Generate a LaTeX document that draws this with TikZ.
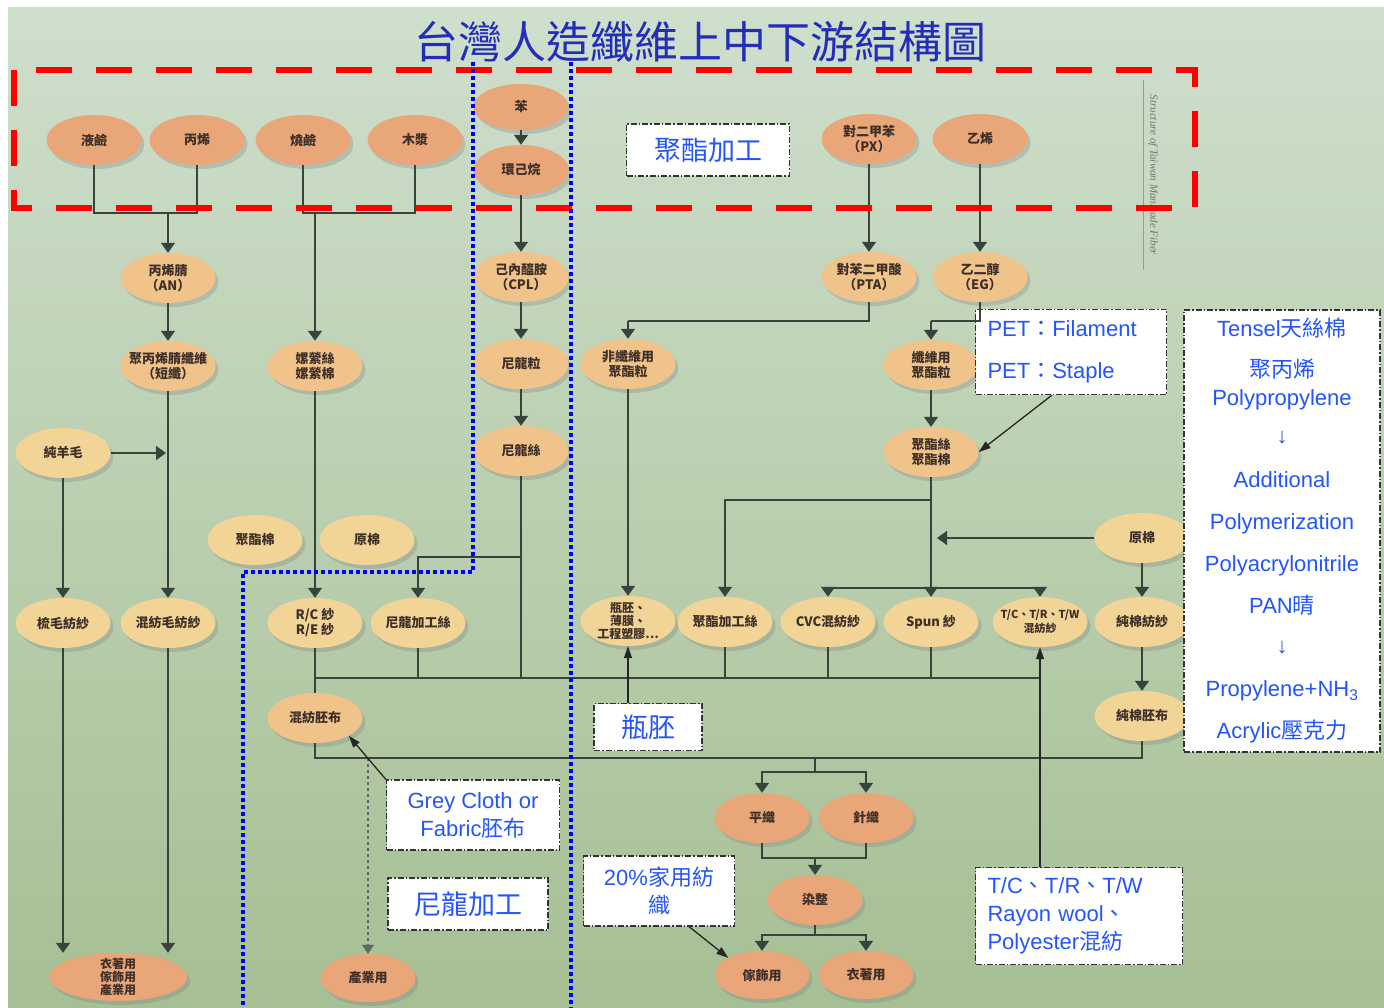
\documentclass[tikz,border=0pt]{standalone}
\usepackage{fontspec}
\setmainfont{Liberation Sans}
\newfontfamily\cjk{Noto Sans CJK TC}
\newfontfamily\serifit{Liberation Serif}
\usetikzlibrary{arrows.meta,shapes.geometric,shadows,calc}
\definecolor{bgtop}{RGB}{206,223,204}
\definecolor{bgbot}{RGB}{166,191,148}
\definecolor{salmon}{RGB}{233,166,121}
\definecolor{peach}{RGB}{240,195,138}
\definecolor{sand}{RGB}{242,212,150}
\definecolor{lc}{RGB}{55,68,60}
\definecolor{lbl}{RGB}{62,48,40}
\definecolor{boxblue}{RGB}{35,85,250}
\definecolor{titleblue}{RGB}{35,45,185}
\begin{document}
\begin{tikzpicture}[x=1pt,y=-1pt,
  nd/.style={ellipse, minimum width=95pt, minimum height=50pt, inner sep=-14pt,
    text=lbl, align=center, font=\cjk\bfseries\fontsize{13}{15}\selectfont,
    drop shadow={shadow xshift=3pt,shadow yshift=-4pt,opacity=0.3}},
  ln/.style={draw=lc, line width=1.6pt},
  ar/.style={ln, -{Triangle[width=14pt,length=10pt]}},
  dar/.style={draw=lc!80, line width=1.3pt, dashed, -{Triangle[width=12pt,length=9pt]}},
  ann/.style={draw=black!85, line width=1.3pt, -{Triangle[width=8pt,length=12pt]}},
  tbox/.style={draw=black!80, fill=white, line width=1.2pt,
    dash pattern=on 6pt off 2pt on 1.5pt off 2pt, text=boxblue, inner sep=4pt},
]
\useasboundingbox (0,0) rectangle (1384,1008);
\fill[white] (0,0) rectangle (1384,1008);
\shade[top color=bgtop, bottom color=bgbot] (8,8) rectangle (1384,1008);

% title and side text
\node[text=titleblue, font=\cjk\fontsize{44}{50}\selectfont] (title) at (700,42) {台灣人造纖維上中下游結構圖};
\draw[black!40, line width=0.8pt] (1143,80) -- (1143,270);
\node[rotate=-90, font=\serifit\itshape\fontsize{11}{12}\selectfont, text=black!55] (side) at (1153,175) {Structure of Taiwan Manmade Fiber};

% nodes
\node[nd,fill=salmon] (liq) at (94,140) {液鹼};
\node[nd,fill=salmon] (prop) at (197,140) {丙烯};
\node[nd,fill=salmon] (soda) at (303,140) {燒鹼};
\node[nd,fill=salmon] (pulp) at (415,140) {木漿};
\node[nd,fill=salmon,minimum height=46pt] (benz) at (521,107) {苯};
\node[nd,fill=salmon] (cyc) at (521,170) {環己烷};
\node[nd,fill=salmon] (px) at (869,139) {對二甲苯\\（PX）};
\node[nd,fill=salmon] (eth) at (980,139) {乙烯};

\node[nd,fill=peach] (an) at (168,278) {丙烯腈\\（AN）};
\node[nd,fill=peach] (cpl) at (521,277) {己內醯胺\\（CPL）};
\node[nd,fill=peach] (pta) at (869,277) {對苯二甲酸\\（PTA）};
\node[nd,fill=peach] (eg) at (980,277) {乙二醇\\（EG）};

\node[nd,fill=peach] (pan) at (168,366) {聚丙烯腈纖維\\（短纖）};
\node[nd,fill=peach] (rayon) at (315,366) {嫘縈絲\\嫘縈棉};
\node[nd,fill=peach] (nchip) at (521,364) {尼龍粒};
\node[nd,fill=peach] (nfchip) at (628,364) {非纖維用\\聚酯粒};
\node[nd,fill=peach] (fchip) at (931,365) {纖維用\\聚酯粒};

\node[nd,fill=sand] (wool) at (63,453) {純羊毛};
\node[nd,fill=peach] (nfil) at (521,451) {尼龍絲};
\node[nd,fill=peach] (pfib) at (931,452) {聚酯絲\\聚酯棉};

\node[nd,fill=sand] (pcot) at (255,540) {聚酯棉};
\node[nd,fill=sand] (rcot) at (367,540) {原棉};
\node[nd,fill=sand] (cotton) at (1142,538) {原棉};

\node[nd,fill=sand] (worst) at (63,623) {梳毛紡紗};
\node[nd,fill=sand] (bw) at (168,623) {混紡毛紡紗};
\node[nd,fill=sand] (rc) at (315,623) {R/C 紗\\R/E 紗};
\node[nd,fill=sand] (nyltex) at (418,623) {尼龍加工絲};
\node[nd,fill=sand,font=\cjk\bfseries\fontsize{12}{13}\selectfont] (bottle) at (628,621) {瓶胚、\\薄膜、\\工程塑膠…};
\node[nd,fill=sand] (ptex) at (725,622) {聚酯加工絲};
\node[nd,fill=sand] (cvc) at (828,622) {CVC混紡紗};
\node[nd,fill=sand] (spun) at (931,622) {Spun 紗};
\node[nd,fill=sand,font=\cjk\bfseries\fontsize{11}{14}\selectfont] (tc) at (1040,622) {T/C、T/R、T/W\\混紡紗};
\node[nd,fill=sand] (pcy) at (1142,622) {純棉紡紗};

\node[nd,fill=peach] (bfab) at (315,718) {混紡胚布};
\node[nd,fill=sand] (cfab) at (1142,716) {純棉胚布};

\node[nd,fill=salmon] (plain) at (762,818) {平織};
\node[nd,fill=salmon] (knit) at (866,818) {針織};
\node[nd,fill=salmon] (dye) at (815,900) {染整};

\node[nd,fill=salmon,minimum width=138pt,minimum height=48pt,font=\cjk\bfseries\fontsize{12}{13}\selectfont] (app) at (118,977) {衣著用\\傢飾用\\產業用};
\node[nd,fill=salmon,minimum height=48pt] (ind) at (368,978) {產業用};
\node[nd,fill=salmon,minimum height=48pt] (home) at (762,975) {傢飾用};
\node[nd,fill=salmon,minimum height=48pt] (cloth) at (866,975) {衣著用};

% text boxes
\node[tbox, minimum width=163pt, minimum height=52pt, font=\cjk\fontsize{27}{30}\selectfont] (pjbox) at (708,150) {聚酯加工};
\node[tbox, minimum width=191pt, minimum height=85pt, inner xsep=12pt, text width=167pt, align=left, font=\fontsize{22}{26}\selectfont] (petbox) at (1071,352) {PET{\cjk ：}Filament\\[16pt]PET{\cjk ：}Staple};
\node[tbox, minimum width=196pt, minimum height=442pt, align=center, font=\fontsize{22}{26}\selectfont] (tenbox) at (1282,531) {Tensel{\cjk 天絲棉}\\[15pt]{\cjk 聚丙烯}\\[2pt]Polypropylene\\[12pt]↓\\[18pt]Additional\\[16pt]Polymerization\\[16pt]Polyacrylonitrile\\[16pt]PAN{\cjk 晴}\\[14pt]↓\\[17pt]Propylene+NH\textsubscript{3}\\[16pt]Acrylic{\cjk 壓克力}};
\node[tbox, minimum width=108pt, minimum height=47pt, font=\cjk\fontsize{27}{30}\selectfont] (bottlebox) at (648,727) {瓶胚};
\node[tbox, minimum width=173pt, minimum height=70pt, align=center, font=\fontsize{22}{28}\selectfont] (greybox) at (473,815) {Grey Cloth or\\Fabric{\cjk 胚布}};
\node[tbox, minimum width=160pt, minimum height=52pt, font=\cjk\fontsize{27}{30}\selectfont] (nybox) at (468,904) {尼龍加工};
\node[tbox, minimum width=151pt, minimum height=70pt, align=center, font=\fontsize{22}{28}\selectfont] (famibox) at (659,891) {20\%{\cjk 家用紡}\\{\cjk 織}};
\node[tbox, minimum width=207pt, minimum height=97pt, inner xsep=12pt, text width=183pt, align=left, font=\fontsize{22}{28}\selectfont] (tcbox) at (1079,916) {T/C{\cjk 、}T/R{\cjk 、}T/W\\Rayon wool{\cjk 、}\\Polyester{\cjk 混紡}};

% connectors: upstream
\coordinate (j1) at (168,213);
\draw[ln] (liq.south) |- (j1) -| (prop.south);
\draw[ar] (j1) -- (an.north);
\coordinate (j2) at (315,213);
\draw[ln] (soda.south) |- (j2) -| (pulp.south);
\draw[ar] (j2) -- (rayon.north);
\draw[ar] (benz) -- (cyc);
\draw[ar] (cyc) -- (cpl);
\draw[ar] (cpl) -- (nchip);
\draw[ar] (nchip) -- (nfil);
\draw[ar] (px) -- (pta);
\draw[ar] (eth) -- (eg);
\coordinate (b1) at (628,321);
\coordinate (b2) at (931,321);
\draw[ln] (pta.south) |- (b1);
\draw[ln] (eg.south) |- (b2);
\draw[ar] (b1) -- (nfchip.north);
\draw[ar] (b2) -- (fchip.north);
\draw[ar] (fchip) -- (pfib);
\draw[ar] (an) -- (pan);
\draw[ar] (pan) -- (bw);
\coordinate (w1) at (166,453);
\draw[ar] (wool) -- (w1);
\draw[ar] (wool) -- (worst);
\draw[ar] (rayon) -- (rc);
\draw[ar] (worst.south) -- (worst.south |- app.north);
\draw[ar] (bw.south) -- (bw.south |- app.north);

% midstream
\coordinate (j3) at (521,557);
\draw[ar] (j3) -| (nyltex.north);
\coordinate (busL) at (315,678);
\coordinate (busR) at (1040,678);
\draw[ln] (nfil.south) -- (nfil.south |- busL);
\draw[ln] (busL) -- (busR);
\draw[ln] (rc) -- (bfab);
\draw[ln] (nyltex.south) -- (nyltex.south |- busL);
\draw[ln] (ptex.south) -- (ptex.south |- busL);
\draw[ln] (cvc.south) -- (cvc.south |- busL);
\draw[ln] (spun.south) -- (spun.south |- busL);
\draw[ar] (nfchip) -- (bottle);
\coordinate (j4) at (931,500);
\draw[ar] (j4) -| (ptex.north);
\draw[ar] (pfib) -- (spun);
\coordinate (j5) at (931,588);
\draw[ar] (j5) -| (cvc.north);
\draw[ar] (j5) -| (tc.north);
\coordinate (j6) at (937,538);
\draw[ar] (cotton) -- (j6);
\draw[ar] (cotton) -- (pcy);
\draw[ar] (pcy) -- (cfab);

% downstream
\coordinate (m1) at (815,758);
\draw[ln] (bfab.south) |- (m1);
\draw[ln] (cfab.south) |- (m1);
\coordinate (m2) at (815,772);
\draw[ln] (m1) -- (m2);
\draw[ar] (m2) -| (plain.north);
\draw[ar] (m2) -| (knit.north);
\coordinate (m3) at (815,858);
\draw[ln] (plain.south) |- (m3);
\draw[ln] (knit.south) |- (m3);
\draw[ar] (m3) -- (dye.north);
\coordinate (m4) at (815,935);
\draw[ln] (dye.south) -- (m4);
\draw[ar] (m4) -| (home.north);
\draw[ar] (m4) -| (cloth.north);
\draw[dar] (ind |- m1) -- (ind.north);

% annotation arrows
\draw[ann] (greybox.north west) -- (bfab.south east);
\draw[ann] ($(petbox.south)+(-19,0)$) -- (pfib.east);
\draw[ann] ($(famibox.south)+(30,0)$) -- (home.north west);
\draw[ann] (bottlebox.north -| bottle) -- (bottle.south);
\draw[ann] (tcbox.north -| tc) -- (tc.south);

% region markers
\draw[red, line width=6pt, dash pattern=on 36pt off 24pt] (14,70) rectangle (1195,208);
\draw[blue, line width=4pt, dash pattern=on 4pt off 3pt] (473,62) -- (473,572) -- (243,572) -- (243,1008);
\draw[blue, line width=4pt, dash pattern=on 4pt off 3pt] (571,62) -- (571,1008);
\end{tikzpicture}
\end{document}
